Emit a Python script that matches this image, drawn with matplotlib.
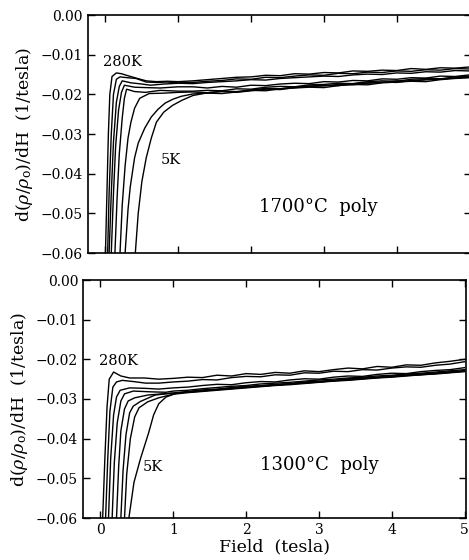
import matplotlib
matplotlib.use("Agg")
import matplotlib.pyplot as plt

plt.rcParams["font.family"] = ["DejaVu Serif"]
plt.rcParams["mathtext.fontset"] = "dejavuserif"

# common high-field grid (tesla)
grid = [1.2, 1.4, 1.6, 1.8, 2.0, 2.2, 2.4, 2.6, 2.8, 3.0,
        3.2, 3.4, 3.6, 3.8, 4.0, 4.2, 4.4, 4.6, 4.8, 5.0]

# ---- 1700 C poly: low-field part of each curve (280K ... 5K) ----
top_low_x = [
    [0.0, 0.02, 0.04, 0.06, 0.09, 0.15, 0.22, 0.29, 0.42, 0.56, 0.7, 0.85, 1.0],
    [0.03, 0.05, 0.08, 0.11, 0.15, 0.2, 0.3, 0.42, 0.56, 0.7, 0.85, 1.0],
    [0.05, 0.08, 0.11, 0.15, 0.19, 0.23, 0.35, 0.5, 0.62, 0.8, 1.0],
    [0.08, 0.11, 0.14, 0.18, 0.22, 0.26, 0.4, 0.55, 0.75, 1.0],
    [0.13, 0.16, 0.19, 0.23, 0.26, 0.29, 0.4, 0.55, 0.75, 1.0],
    [0.2, 0.23, 0.27, 0.31, 0.35, 0.4, 0.47, 0.6, 0.8, 1.0],
    [0.27, 0.31, 0.34, 0.4, 0.45, 0.54, 0.63, 0.72, 0.82, 0.93, 1.04],
    [0.41, 0.45, 0.5, 0.56, 0.63, 0.7, 0.8, 0.92, 1.05],
]
top_low_y = [
    [-0.06, -0.045, -0.03, -0.02, -0.0155, -0.0146, -0.0148, -0.0152, -0.0159, -0.0166, -0.0168, -0.0167, -0.0168],
    [-0.06, -0.045, -0.03, -0.02, -0.0162, -0.0156, -0.0158, -0.016, -0.0169, -0.017, -0.0169, -0.0171],
    [-0.06, -0.045, -0.032, -0.022, -0.018, -0.0166, -0.0171, -0.0174, -0.0177, -0.0174, -0.0172],
    [-0.06, -0.045, -0.033, -0.024, -0.0195, -0.0177, -0.0182, -0.0183, -0.0184, -0.0181],
    [-0.06, -0.046, -0.035, -0.026, -0.021, -0.0187, -0.0193, -0.0195, -0.019, -0.0192],
    [-0.06, -0.048, -0.038, -0.031, -0.027, -0.0235, -0.021, -0.0198, -0.0197, -0.0195],
    [-0.06, -0.049, -0.0434, -0.036, -0.0323, -0.0285, -0.0257, -0.0238, -0.0222, -0.0212, -0.0205],
    [-0.06, -0.05, -0.042, -0.036, -0.031, -0.027, -0.0245, -0.0228, -0.0215],
]
top_high_y = [
    [-0.0166, -0.0163, -0.0160, -0.0157, -0.0156, -0.0152, -0.0153, -0.0148, -0.0149, -0.0145,
     -0.0146, -0.0141, -0.0142, -0.0139, -0.0140, -0.0135, -0.0137, -0.0133, -0.0134, -0.0131],
    [-0.0170, -0.0167, -0.0165, -0.0161, -0.0162, -0.0157, -0.0158, -0.0154, -0.0151, -0.0152,
     -0.0147, -0.0148, -0.0144, -0.0145, -0.0141, -0.0142, -0.0138, -0.0139, -0.0135, -0.0136],
    [-0.0173, -0.0170, -0.0168, -0.0166, -0.0163, -0.0164, -0.0160, -0.0158, -0.0156, -0.0154,
     -0.0155, -0.0151, -0.0149, -0.0150, -0.0146, -0.0147, -0.0143, -0.0144, -0.0140, -0.0141],
    [-0.0181, -0.0184, -0.0180, -0.0182, -0.0177, -0.0178, -0.0174, -0.0172, -0.0173, -0.0168,
     -0.0169, -0.0165, -0.0166, -0.0161, -0.0162, -0.0158, -0.0159, -0.0154, -0.0155, -0.0151],
    [-0.0192, -0.0190, -0.0191, -0.0186, -0.0187, -0.0182, -0.0180, -0.0181, -0.0176, -0.0175,
     -0.0172, -0.0173, -0.0168, -0.0166, -0.0167, -0.0162, -0.0160, -0.0161, -0.0156, -0.0154],
    [-0.0194, -0.0196, -0.0192, -0.0193, -0.0189, -0.0185, -0.0186, -0.0181, -0.0179, -0.0177,
     -0.0178, -0.0173, -0.0171, -0.0169, -0.0170, -0.0165, -0.0163, -0.0161, -0.0159, -0.0157],
    [-0.0199, -0.0197, -0.0198, -0.0194, -0.0190, -0.0191, -0.0186, -0.0184, -0.0182, -0.0183,
     -0.0178, -0.0175, -0.0176, -0.0171, -0.0169, -0.0167, -0.0168, -0.0163, -0.0160, -0.0158],
    [-0.0203, -0.0196, -0.0193, -0.0195, -0.0191, -0.0187, -0.0188, -0.0183, -0.0180, -0.0179,
     -0.0175, -0.0176, -0.0172, -0.0170, -0.0166, -0.0167, -0.0163, -0.0162, -0.0158, -0.0156],
]

# ---- 1300 C poly ----
bot_low_x = [
    [0.03, 0.06, 0.09, 0.12, 0.18, 0.28, 0.4, 0.6, 0.8, 1.0],
    [0.07, 0.1, 0.13, 0.17, 0.22, 0.3, 0.45, 0.62, 0.8, 1.0],
    [0.11, 0.14, 0.18, 0.22, 0.27, 0.4, 0.6, 0.8, 1.0],
    [0.16, 0.19, 0.23, 0.28, 0.33, 0.45, 0.7, 0.9, 1.0],
    [0.22, 0.25, 0.28, 0.33, 0.38, 0.47, 0.65, 0.85, 1.0],
    [0.28, 0.31, 0.35, 0.4, 0.45, 0.55, 0.75, 1.0],
    [0.33, 0.36, 0.41, 0.47, 0.53, 0.65, 0.8, 1.0],
    [0.39, 0.46, 0.55, 0.66, 0.73, 0.8, 0.9, 1.05],
]
bot_low_y = [
    [-0.06, -0.045, -0.032, -0.025, -0.0232, -0.0242, -0.0247, -0.0247, -0.025, -0.0248],
    [-0.06, -0.045, -0.033, -0.027, -0.0257, -0.0253, -0.0256, -0.026, -0.026, -0.0257],
    [-0.06, -0.045, -0.034, -0.0295, -0.0278, -0.0272, -0.0273, -0.0275, -0.0272],
    [-0.06, -0.046, -0.036, -0.0305, -0.0287, -0.028, -0.0282, -0.0283, -0.028],
    [-0.06, -0.047, -0.038, -0.0325, -0.0305, -0.0297, -0.029, -0.0287, -0.0285],
    [-0.06, -0.048, -0.039, -0.0335, -0.0318, -0.0306, -0.029, -0.0285],
    [-0.06, -0.049, -0.04, -0.0345, -0.0322, -0.0307, -0.0297, -0.0288],
    [-0.06, -0.051, -0.045, -0.0386, -0.034, -0.0312, -0.0295, -0.0285],
]
bot_high_y = [
    [-0.0245, -0.0246, -0.0240, -0.0242, -0.0236, -0.0238, -0.0233, -0.0235, -0.0229, -0.0231,
     -0.0226, -0.0222, -0.0224, -0.0218, -0.0220, -0.0214, -0.0215, -0.0209, -0.0205, -0.0200],
    [-0.0255, -0.0251, -0.0252, -0.0246, -0.0243, -0.0244, -0.0239, -0.0240, -0.0234, -0.0235,
     -0.0230, -0.0231, -0.0226, -0.0227, -0.0222, -0.0219, -0.0220, -0.0215, -0.0212, -0.0206],
    [-0.0270, -0.0266, -0.0263, -0.0264, -0.0259, -0.0256, -0.0257, -0.0252, -0.0249, -0.0250,
     -0.0245, -0.0242, -0.0243, -0.0238, -0.0235, -0.0236, -0.0231, -0.0228, -0.0226, -0.0221],
    [-0.0278, -0.0274, -0.0271, -0.0268, -0.0266, -0.0262, -0.0260, -0.0258, -0.0255, -0.0252,
     -0.0250, -0.0247, -0.0245, -0.0242, -0.0240, -0.0237, -0.0235, -0.0232, -0.0229, -0.0226],
    [-0.0281, -0.0277, -0.0275, -0.0271, -0.0268, -0.0266, -0.0263, -0.0261, -0.0257, -0.0255,
     -0.0253, -0.0249, -0.0247, -0.0245, -0.0242, -0.0240, -0.0237, -0.0235, -0.0232, -0.0229],
    [-0.0283, -0.0280, -0.0276, -0.0274, -0.0270, -0.0268, -0.0265, -0.0262, -0.0260, -0.0257,
     -0.0254, -0.0252, -0.0249, -0.0246, -0.0244, -0.0241, -0.0239, -0.0236, -0.0233, -0.0230],
    [-0.0284, -0.0281, -0.0278, -0.0275, -0.0272, -0.0269, -0.0266, -0.0264, -0.0261, -0.0258,
     -0.0255, -0.0253, -0.0250, -0.0247, -0.0245, -0.0242, -0.0239, -0.0237, -0.0234, -0.0231],
    [-0.0282, -0.0279, -0.0277, -0.0273, -0.0271, -0.0267, -0.0265, -0.0262, -0.0259, -0.0257,
     -0.0254, -0.0251, -0.0248, -0.0246, -0.0243, -0.0240, -0.0238, -0.0235, -0.0232, -0.0229],
]

yticks = [0.0, -0.01, -0.02, -0.03, -0.04, -0.05, -0.06]
xticks = [0, 1, 2, 3, 4, 5]
ylabel = r"d($\rho/\rho_{\rm o}$)/dH  (1/tesla)"

fig = plt.figure(figsize=(4.69, 5.60), dpi=100)
ax_top = fig.add_axes([0.1876, 0.5482, 0.8166, 0.425])
ax_bot = fig.add_axes([0.1770, 0.0750, 0.8166, 0.425])

panels = [
    (ax_top, top_low_x, top_low_y, top_high_y, "1700°C  poly",
     (0.23, -0.0118), (0.9, -0.0366), (2.92, -0.0484)),
    (ax_bot, bot_low_x, bot_low_y, bot_high_y, "1300°C  poly",
     (0.25, -0.0204), (0.72, -0.0471), (3.0, -0.0466)),
]

for ax, lx, ly, hy, name, pos_hot, pos_cold, pos_name in panels:
    for xs, ys, yh in zip(lx, ly, hy):
        ax.plot(list(xs) + grid, list(ys) + yh, color="black", linewidth=1.0)
    ax.set_xlim(-0.24, 5.02)
    ax.set_ylim(-0.06, 0.0)
    ax.set_yticks(yticks)
    ax.set_yticklabels([f"{v:.2f}".replace("-", "\u2212") for v in yticks])
    ax.set_xticks(xticks)
    ax.tick_params(direction="in", length=5, width=1.0, top=True, right=True,
                   labelsize=10)
    for s in ax.spines.values():
        s.set_linewidth(1.2)
    ax.set_ylabel(ylabel, fontsize=12.5, labelpad=4)
    ax.text(*pos_hot, "280K", fontsize=10.5, ha="center", va="center")
    ax.text(*pos_cold, "5K", fontsize=10.5, ha="center", va="center")
    ax.text(*pos_name, name, fontsize=13, ha="center", va="center")

ax_top.tick_params(labelbottom=False)
ax_bot.set_xlabel("Field  (tesla)", fontsize=12.5, labelpad=1)

fig.savefig("out.png", dpi=100)
plt.close(fig)
